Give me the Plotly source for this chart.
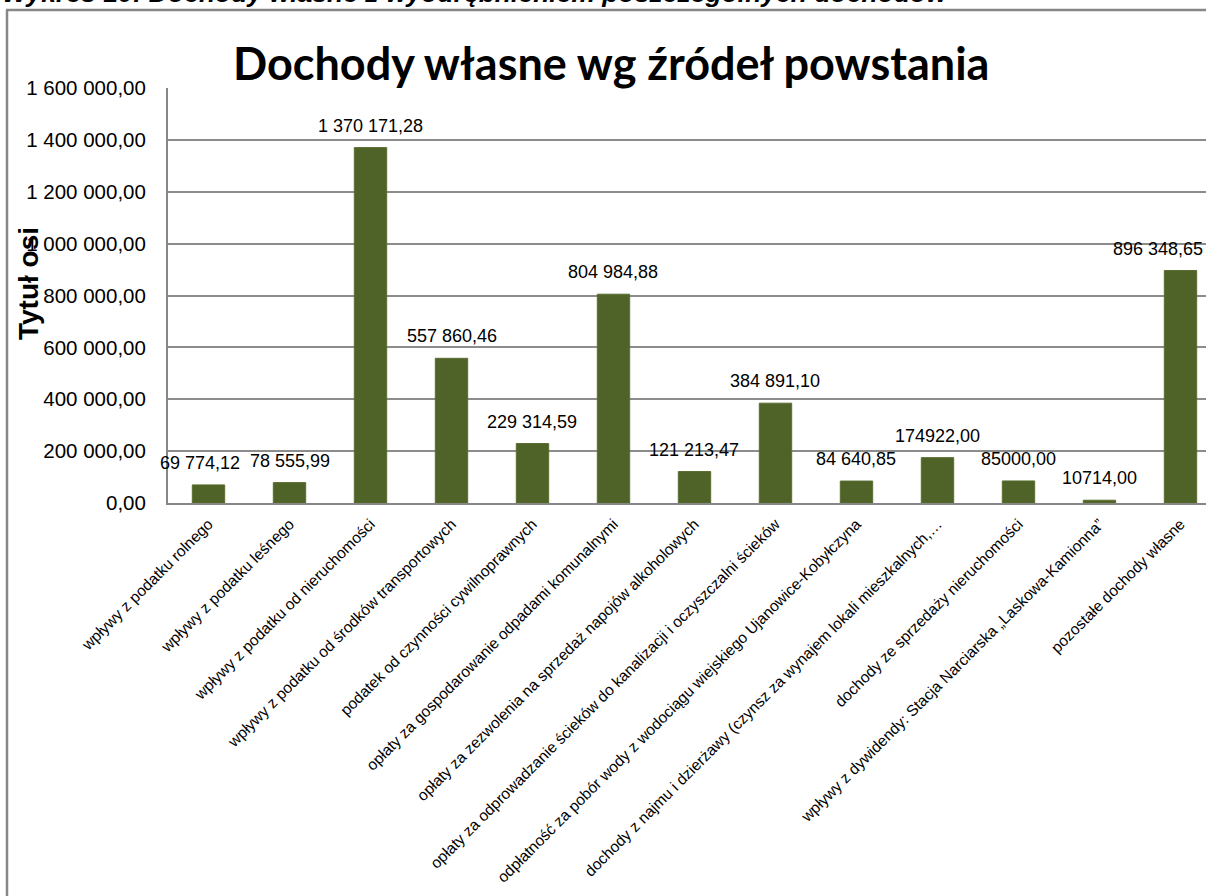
import plotly.graph_objects as go

categories = [
    "wpływy z podatku rolnego",
    "wpływy z podatku leśnego",
    "wpływy z podatku od nieruchomości",
    "wpływy z podatku od środków transportowych",
    "podatek od czynności cywilnoprawnych",
    "opłaty za gospodarowanie odpadami komunalnymi",
    "opłaty za zezwolenia na sprzedaż napojów alkoholowych",
    "opłaty za odprowadzanie ścieków do kanalizacji i oczyszczalni ścieków",
    "odpłatność za pobór wody z wodociągu wiejskiego Ujanowice-Kobyłczyna",
    "dochody z najmu i dzierżawy (czynsz za wynajem lokali mieszkalnych,…",
    "dochody ze sprzedaży nieruchomości",
    "wpływy z dywidendy: Stacja Narciarska „Laskowa-Kamionna”",
    "pozostałe dochody własne",
]
values = [69774.12, 78555.99, 1370171.28, 557860.46, 229314.59, 804984.88,
          121213.47, 384891.10, 84640.85, 174922.00, 85000.00, 10714.00, 896348.65]
value_labels = ["69 774,12", "78 555,99", "1 370 171,28", "557 860,46", "229 314,59",
                "804 984,88", "121 213,47", "384 891,10", "84 640,85", "174922,00",
                "85000,00", "10714,00", "896 348,65"]
y_ticks = [0, 200000, 400000, 600000, 800000, 1000000, 1200000, 1400000, 1600000]

label_xshift = [-9, 0, 0, 0, 0, 0, 0, 0, 0, 0, 0, 0, -22]

W, H = 1206, 896
L, R, T, B = 168, 0, 88, 393
pw, ph = W - L - R, H - T - B

def px_x(px):
    return (px - L) / pw

def px_y(py):
    return (H - B - py) / ph

fig = go.Figure()
fig.add_trace(go.Bar(
    x=categories, y=values, width=0.4,
    marker=dict(color="#4F6228", line=dict(color="#5a6e30", width=1)),
    hoverinfo="skip",
))

for i, (c, v, t) in enumerate(zip(categories, values, value_labels)):
    fig.add_annotation(x=c, y=v, xref="x", yref="y", text=t, showarrow=False,
                       yanchor="bottom", yshift=10, xshift=label_xshift[i],
                       font=dict(family="Liberation Sans, Arial", size=18, color="#000000"))

fig.add_annotation(xref="paper", yref="paper", x=px_x(611), y=px_y(63),
                   text="<b>Dochody własne wg źródeł powstania</b>", showarrow=False,
                   xanchor="center", yanchor="middle",
                   font=dict(family="Lato, Open Sans, sans-serif", size=45, color="#000000"))

fig.add_annotation(xref="paper", yref="paper", x=px_x(28), y=px_y(284),
                   text="<b>Tytuł osi</b>", showarrow=False, textangle=-90,
                   xanchor="center", yanchor="middle",
                   font=dict(family="Liberation Sans, Arial", size=28, color="#000000"))

fig.add_annotation(xref="paper", yref="paper", x=px_x(0), y=px_y(-7),
                   text="<b><i>Wykres 10: Dochody własne z wyodrębnieniem poszczególnych dochodów</i></b>",
                   showarrow=False, xanchor="left", yanchor="middle",
                   font=dict(family="Liberation Sans, Arial", size=26.5, color="#000000"))

# outer chart-area border (left and top edges visible)
fig.add_shape(type="line", xref="paper", yref="paper",
              x0=px_x(7), x1=px_x(7), y0=px_y(900), y1=px_y(10),
              line=dict(color="#878787", width=2.5), layer="below")
fig.add_shape(type="line", xref="paper", yref="paper",
              x0=px_x(6), x1=px_x(1210), y0=px_y(10), y1=px_y(10),
              line=dict(color="#878787", width=2.5), layer="below")

fig.update_layout(
    width=W, height=H,
    margin=dict(l=L, r=R, t=T, b=B, pad=0),
    paper_bgcolor="#ffffff", plot_bgcolor="#ffffff",
    separators=", ",
    showlegend=False,
    bargap=0.6,
)
fig.update_xaxes(
    type="category", range=[-0.5, 12.315],
    showgrid=False, showline=True, linecolor="#878787", linewidth=2,
    tickangle=-45, ticks="", ticklabelstandoff=4,
    tickfont=dict(family="Liberation Sans, Arial", size=15.5, color="#000000"),
    automargin=False,
)
fig.update_yaxes(
    range=[0, 1600000], tickvals=y_ticks, tickformat=",.2f",
    showgrid=True, gridcolor="#8c8c8c", gridwidth=1.5,
    showline=True, linecolor="#878787", linewidth=2,
    zeroline=False, ticks="", ticklabelstandoff=16,
    tickfont=dict(family="Liberation Sans, Arial", size=20.5, color="#000000"),
    automargin=False,
)

fig.write_html("out.html", config={"displayModeBar": False},
               post_script="document.body.style.margin='0';document.body.style.overflow='hidden';")
